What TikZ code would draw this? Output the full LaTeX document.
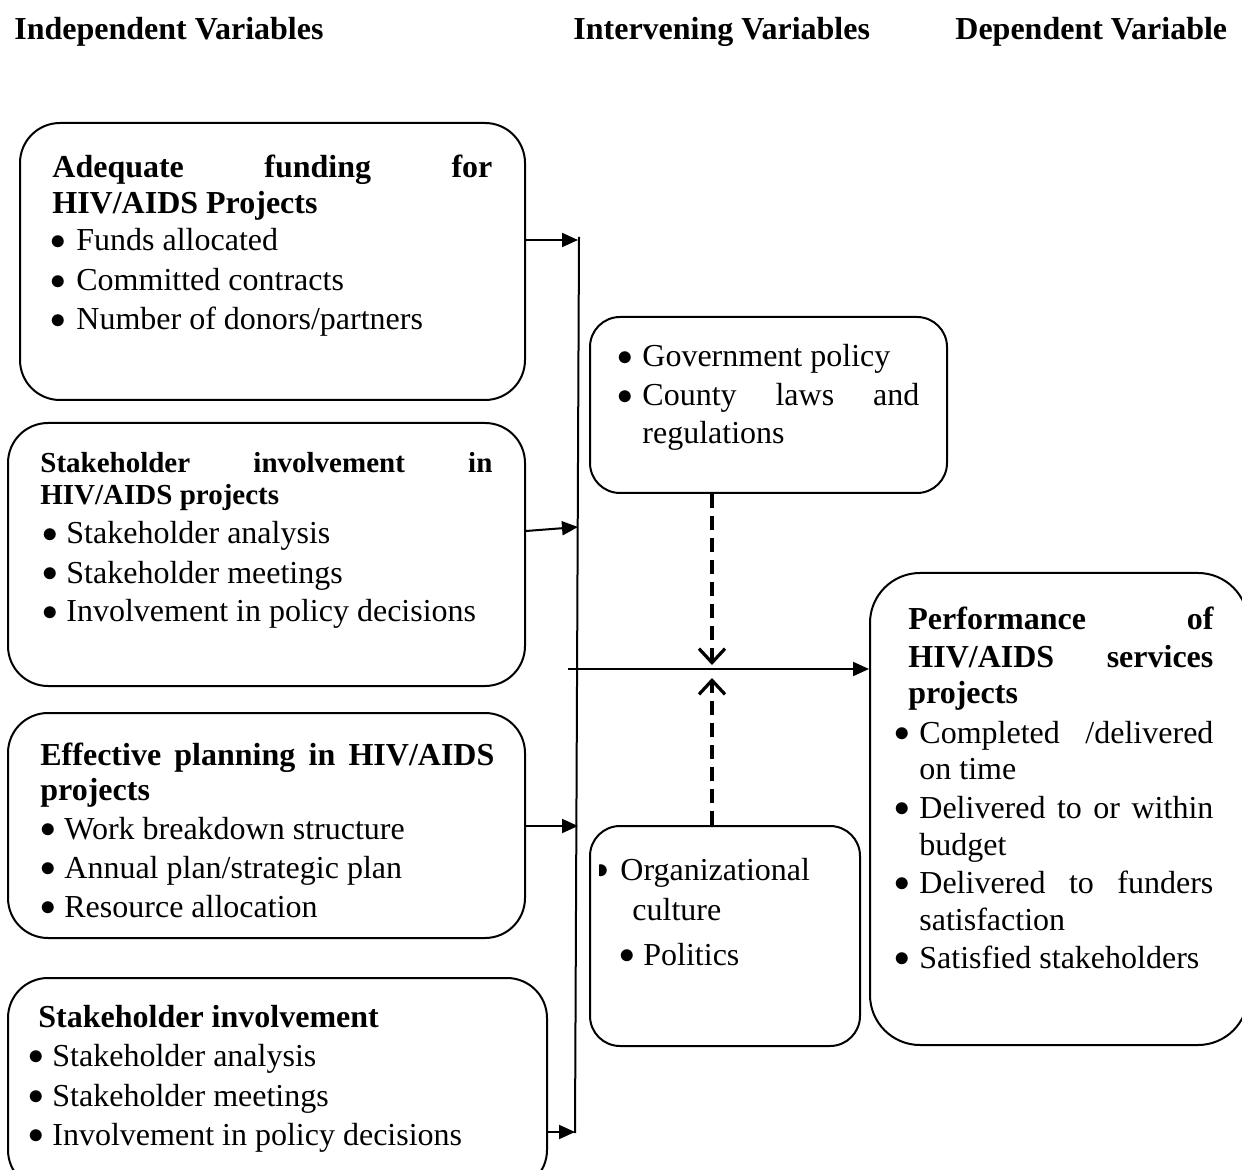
\documentclass[tikz,border=0pt]{standalone}
\usepackage{fontspec}
\setmainfont{Liberation Serif}
\usetikzlibrary{arrows.meta,fit,calc}
\newcommand\bodyfont{\fontsize{16}{19}\selectfont}
\newcommand\smallbold{\fontsize{14.5}{17}\selectfont\bfseries}
\newcommand\bdot{\makebox[8pt][c]{\raisebox{0.05em}{\scalebox{0.9}{$\bullet$}}}}
\newcommand\bitem[1]{\makebox[#1][l]{\bdot}}
\begin{document}
\begin{tikzpicture}[x=0.5pt,y=-0.5pt,
  box/.style={draw, line width=1pt, rounded corners=20pt, inner sep=0pt},
  sbox/.style={box, rounded corners=15pt},
  txt/.style={anchor=base west, inner sep=0pt, font=\bodyfont},
  hdr/.style={txt, font=\bodyfont\bfseries},
  arr/.style={line width=1pt, -{Triangle[length=8pt,width=7pt]}},
  dsh/.style={line width=1.6pt, dash pattern=on 7pt off 4pt, -{Straight Barb[length=7pt,width=13pt]}}]
\useasboundingbox (0,0) rectangle (1242,1170);

% headers
\node[hdr] (h1) at (14,40) {Independent Variables};
\node[hdr] (h2) at (573,40) {Intervening Variables};
\node[hdr] (h3) at (955,40) {Dependent Variable};

% boxes
\node[box, fit={(20,123) (525,400)}] (b1) {};
\node[box, fit={(8,423) (525,686)}] (b2) {};
\node[box, fit={(8,713) (525,938)}] (b3) {};
\node[box, fit={(8,978) (547,1190)}] (b4) {};
\node[sbox, fit={(590,317) (947,493)}] (gov) {};
\node[sbox, fit={(590,826) (860,1046)}] (org) {};
\node[box, rounded corners=25pt, fit={(870,573) (1248,1045)}] (perf) {};

% box 1 text
\node[txt] (t11) at (52,178) {\makebox[220pt][s]{\bfseries Adequate funding for}};
\node[txt] (t12) at (52,214) {\bfseries HIV/AIDS Projects};
\node[txt] (t13) at (50,251) {\bitem{13pt}Funds allocated};
\node[txt] (t14) at (50,291) {\bitem{13pt}Committed contracts};
\node[txt] (t15) at (50,330) {\bitem{13pt}Number of donors/partners};

% box 2 text
\node[txt, font=\smallbold] (t21) at (40,473) {\makebox[226pt][s]{Stakeholder involvement in}};
\node[txt, font=\smallbold] (t22) at (40,505) {HIV/AIDS projects};
\node[txt] (t23) at (42,544) {\bitem{12pt}Stakeholder analysis};
\node[txt] (t24) at (42,583) {\bitem{12pt}Stakeholder meetings};
\node[txt] (t25) at (42,622) {\bitem{12pt}Involvement in policy decisions};

% box 3 text
\node[txt] (t31) at (40,765) {\makebox[227pt][s]{\bfseries Effective planning in HIV/AIDS}};
\node[txt] (t32) at (40,800) {\bfseries projects};
\node[txt] (t33) at (40,839) {\bitem{12pt}Work breakdown structure};
\node[txt] (t34) at (40,878) {\bitem{12pt}Annual plan/strategic plan};
\node[txt] (t35) at (40,917) {\bitem{12pt}Resource allocation};

% box 4 text
\node[txt] (t41) at (38,1027) {\bfseries Stakeholder involvement};
\node[txt] (t42) at (28,1066) {\bitem{12pt}Stakeholder analysis};
\node[txt] (t43) at (28,1106) {\bitem{12pt}Stakeholder meetings};
\node[txt] (t44) at (28,1145) {\bitem{12pt}Involvement in policy decisions};

% government box text
\node[txt] (g1) at (617,367) {\bitem{12.5pt}Government policy};
\node[txt] (g2) at (617,406) {\bitem{12.5pt}\makebox[138.5pt][s]{County laws and}};
\node[txt] (g3) at (642,444) {regulations};

% organisation box text
\begin{scope}
\clip (599,850) rectangle (615,885);
\node[txt] (o0) at (593,880) {\bdot};
\end{scope}
\node[txt] (o1) at (620,880) {Organizational};
\node[txt] (o2) at (632,920) {culture};
\node[txt] (o3) at (619,965) {\bitem{12pt}Politics};

% performance box text
\node[txt] (p1) at (908,630) {\makebox[152.5pt][s]{\bfseries Performance of}};
\node[txt] (p2) at (908,668) {\makebox[152.5pt][s]{\bfseries HIV/AIDS services}};
\node[txt] (p3) at (908,703) {\bfseries projects};
\node[txt] (p4) at (894,743) {\bitem{12.5pt}\makebox[147pt][s]{Completed /delivered}};
\node[txt] (p5) at (919,779) {on time};
\node[txt] (p6) at (894,818) {\bitem{12.5pt}\makebox[147pt][s]{Delivered to or within}};
\node[txt] (p7) at (919,855) {budget};
\node[txt] (p8) at (894,893) {\bitem{12.5pt}\makebox[147pt][s]{Delivered to funders}};
\node[txt] (p9) at (919,930) {satisfaction};
\node[txt] (p10) at (894,968) {\bitem{12.5pt}Satisfied stakeholders};

% connectors
\coordinate (vt) at (579,237);
\coordinate (vb) at (575,1133);
\draw[line width=1pt] (vt) -- (vb);
\coordinate (a1) at (578,240);
\draw[arr] (b1.east |- a1) -- (a1);
\coordinate (a2s) at (525,531);
\coordinate (a2) at (578,527);
\draw[arr] (b2.east |- a2s) -- (a2);
\coordinate (a3) at (578,826);
\draw[arr] (b3.east |- a3) -- (a3);
\coordinate (a4) at (575,1132);
\draw[arr] (b4.east |- a4) -- (a4);
\coordinate (ms) at (568,669);
\draw[arr] (ms) -- (ms -| perf.west);
\coordinate (gd) at (712,665);
\draw[dsh] (gd |- gov.south) -- (gd);
\coordinate (ou) at (712,678);
\draw[dsh] (ou |- org.north) -- (ou);
\end{tikzpicture}
\end{document}
